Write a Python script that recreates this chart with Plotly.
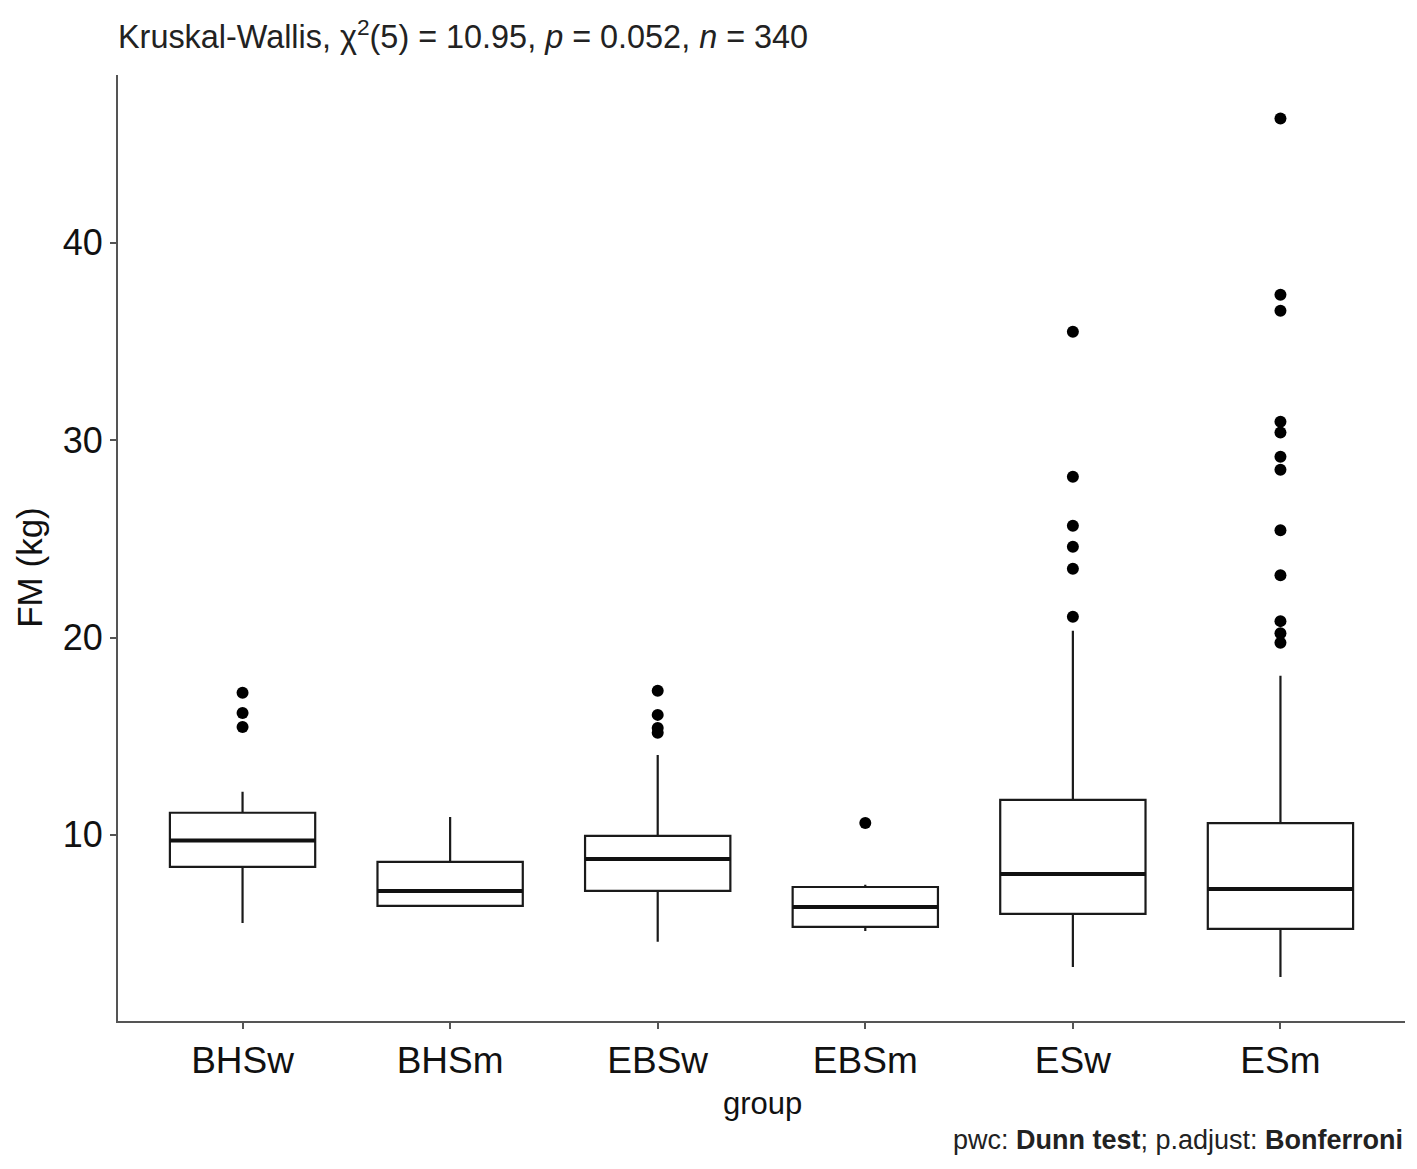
import plotly.graph_objects as go

# group summaries (FM in kg)
groups = ["BHSw", "BHSm", "EBSw", "EBSm", "ESw", "ESm"]
q1 = [8.38, 6.40, 7.16, 5.34, 6.00, 5.24]
median = [9.72, 7.16, 8.78, 6.35, 8.02, 7.26]
q3 = [11.12, 8.63, 9.95, 7.36, 11.77, 10.60]
lower_whisker = [5.54, 6.40, 4.58, 5.13, 3.31, 2.80]
upper_whisker = [12.18, 10.91, 14.05, 7.47, 20.34, 18.06]

outliers = {
    "BHSw": [17.2, 16.18, 15.47],
    "BHSm": [],
    "EBSw": [17.3, 16.08, 15.42, 15.17],
    "EBSm": [10.6],
    "ESw": [35.49, 28.14, 25.66, 24.6, 23.48, 21.05],
    "ESm": [46.3, 37.37, 36.56, 30.93, 30.39, 29.16, 28.5, 25.44, 23.16,
            20.83, 20.21, 19.74],
}

pos = list(range(1, len(groups) + 1))
box_w = 0.7
FONT = "Liberation Sans, Arial, sans-serif"

fig = go.Figure()

fig.add_trace(go.Box(
    x=pos,
    q1=q1, median=median, q3=q3,
    lowerfence=lower_whisker, upperfence=upper_whisker,
    width=box_w,
    whiskerwidth=0,
    boxpoints=False,
    fillcolor="white",
    line=dict(color="#1a1a1a", width=2.2),
    showlegend=False,
    hoverinfo="skip",
))

# thicker median line like ggplot's fatten
mx, my = [], []
for p, m in zip(pos, median):
    mx += [p - box_w / 2, p + box_w / 2, None]
    my += [m, m, None]
fig.add_trace(go.Scatter(
    x=mx, y=my, mode="lines",
    line=dict(color="#111111", width=4),
    showlegend=False, hoverinfo="skip",
))

# outlier points
ox, oy = [], []
for p, g in zip(pos, groups):
    ox += [p] * len(outliers[g])
    oy += outliers[g]
fig.add_trace(go.Scatter(
    x=ox, y=oy, mode="markers",
    marker=dict(color="black", size=12),
    showlegend=False,
))

fig.update_layout(
    width=1401, height=1153,
    margin=dict(l=110, r=4, t=67, b=140),
    plot_bgcolor="white", paper_bgcolor="white",
    font=dict(family=FONT, color="black"),
    title=dict(
        text="Kruskal-Wallis, χ<sup>2</sup>(5) = 10.95, <i>p</i> = 0.052, <i>n</i> = 340",
        x=110 / 1401, xanchor="left",
        y=1 - 29 / 1153, yanchor="middle",
        font=dict(size=32.4, color="#222222"),
    ),
    xaxis=dict(
        range=[0.4, 6.6],
        tickvals=pos, ticktext=groups,
        showgrid=False, zeroline=False,
        showline=True, linecolor="#555555", linewidth=2,
        ticks="outside", ticklen=6, tickcolor="#555555", tickwidth=2,
        tickfont=dict(size=37, color="#111111"),
    ),
    yaxis=dict(
        range=[0.57, 48.5],
        tickvals=[10, 20, 30, 40],
        showgrid=False, zeroline=False,
        showline=True, linecolor="#555555", linewidth=2,
        ticks="outside", ticklen=6, tickcolor="#555555", tickwidth=2,
        tickfont=dict(size=36, color="#111111"),
    ),
    annotations=[
        dict(
            text="group", xref="paper", yref="paper",
            x=0.501, y=-0.0867, xanchor="center", yanchor="middle",
            showarrow=False, font=dict(size=31, color="#111111"),
        ),
        dict(
            text="FM (kg)", xref="paper", yref="paper",
            x=-0.0685, y=0.48, xanchor="center", yanchor="middle",
            textangle=-90,
            showarrow=False, font=dict(size=35, color="#111111"),
        ),
        dict(
            text="pwc: <b>Dunn test</b>; p.adjust: <b>Bonferroni</b>",
            xref="paper", yref="paper",
            x=1, xanchor="right",
            y=-0.1258, yanchor="middle",
            showarrow=False,
            font=dict(size=27, color="#222222"),
        ),
    ],
)

fig.write_html("out.html")
